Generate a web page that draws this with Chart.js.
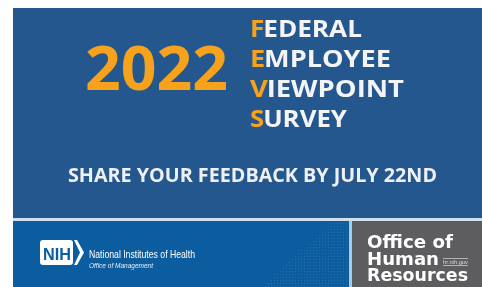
<!DOCTYPE html>
<html>
<head>
<meta charset="utf-8">
<script src="https://cdn.jsdelivr.net/npm/chart.js@4"></script>
<style>
  html, body { margin: 0; padding: 0; background: #fff; }
  #banner { display: block; }
</style>
</head>
<body>
<canvas id="banner" width="482" height="287"></canvas>
<script>
// Banner content
const year = '2022';
const acronymWords = ['FEDERAL', 'EMPLOYEE', 'VIEWPOINT', 'SURVEY'];
const tagline = 'SHARE YOUR FEEDBACK BY JULY 22ND';
const nihLines = ['National Institutes of Health', 'Office of Management'];
const ohrLines = ['Office of', 'Human', 'Resources'];

const BLUE = '#25578f';
const BLUE_LOW = '#0b5d9f';
const ORANGE = '#f6a21c';
const GRAY = '#5d5d5f';

// draw text squeezed/stretched to a given width
function fitText(ctx, text, x, y, w, font, color) {
    ctx.save();
    ctx.font = font;
    ctx.fillStyle = color;
    const m = ctx.measureText(text).width;
    ctx.translate(x, y);
    ctx.scale(w / m, 1);
    ctx.fillText(text, 0, 0);
    ctx.restore();
}

const bannerPlugin = {
    id: 'banner',
    beforeDraw(chart) {
        const ctx = chart.ctx;
        ctx.save();
        ctx.fillStyle = '#fff';
        ctx.fillRect(0, 0, 482, 287);

        // top panel
        ctx.fillStyle = BLUE;
        ctx.fillRect(13, 8, 469, 210);
        ctx.fillStyle = '#cfe1ef';
        ctx.fillRect(13, 218, 469, 3);

        // bottom band
        ctx.fillStyle = BLUE_LOW;
        ctx.fillRect(13, 221, 336, 66);
        ctx.fillStyle = 'rgba(255,255,255,0.12)';
        for (let y = 223; y < 287; y += 3) {
            for (let x = 250; x < 348; x += 3) {
                if (x > 262 + (287 - y) * 1.05) ctx.fillRect(x, y, 1, 1);
            }
        }
        ctx.fillStyle = '#a8cbe8';
        ctx.fillRect(349, 221, 3, 66);
        ctx.fillStyle = GRAY;
        ctx.fillRect(352, 221, 130, 66);

        // year
        fitText(ctx, year, 85, 90, 143, 'bold 60px "Open Sans"', ORANGE);

        // acronym block
        const baselines = [36.5, 67, 97, 127];
        const widths = [113, 142, 155, 98];
        acronymWords.forEach((w, i) => {
            ctx.font = 'bold 24px "Open Sans"';
            const full = ctx.measureText(w).width;
            const rest = ctx.measureText(w.slice(1)).width;
            const k = widths[i] / full;
            ctx.save();
            ctx.translate(250, baselines[i]);
            ctx.scale(k, 1);
            ctx.fillStyle = '#f4f4f4';
            ctx.fillText(w.slice(1), full - rest - 1, 0);
            ctx.fillStyle = ORANGE;
            ctx.fillText(w[0], 0, 0);
            ctx.restore();
        });

        // tagline
        fitText(ctx, tagline, 68, 182, 369, 'bold 19px "Open Sans"', '#eef0f3');

        // NIH logo
        ctx.fillStyle = '#fff';
        ctx.beginPath();
        ctx.roundRect(40, 240, 33, 25, 3);
        ctx.fill();
        ctx.beginPath();
        ctx.moveTo(74, 240);
        ctx.lineTo(77, 240);
        ctx.lineTo(84, 252.5);
        ctx.lineTo(77, 265);
        ctx.lineTo(74, 265);
        ctx.lineTo(80, 252.5);
        ctx.closePath();
        ctx.fill();
        fitText(ctx, 'NIH', 43, 260, 28, 'bold 17px "Liberation Sans"', BLUE_LOW);
        fitText(ctx, nihLines[0], 89, 258, 106, '11px "Liberation Sans"', '#fff');
        fitText(ctx, nihLines[1], 89, 268, 64, 'italic 8px "Liberation Sans"', '#e8eef5');

        // OHR block
        fitText(ctx, ohrLines[0], 367, 248, 86, 'bold 18px "DejaVu Sans"', '#fff');
        fitText(ctx, ohrLines[1], 367, 265, 72, 'bold 18px "DejaVu Sans"', '#fff');
        fitText(ctx, ohrLines[2], 367, 281, 101, 'bold 18px "DejaVu Sans"', '#fff');
        ctx.strokeStyle = '#d8d8d8';
        ctx.lineWidth = 0.7;
        ctx.beginPath();
        ctx.moveTo(443, 258.5); ctx.lineTo(468, 258.5);
        ctx.moveTo(443, 265.5); ctx.lineTo(468, 265.5);
        ctx.stroke();
        fitText(ctx, 'hr.nih.gov', 443, 264, 25, '6px "Liberation Sans"', '#dcdcdc');
        ctx.restore();
    }
};

new Chart(document.getElementById('banner'), {
    type: 'bar',
    data: { labels: [], datasets: [] },
    options: {
        responsive: false,
        animation: false,
        layout: { padding: 0 },
        scales: { x: { display: false }, y: { display: false } },
        plugins: { legend: { display: false }, tooltip: { enabled: false } }
    },
    plugins: [bannerPlugin]
});
</script>
</body>
</html>
